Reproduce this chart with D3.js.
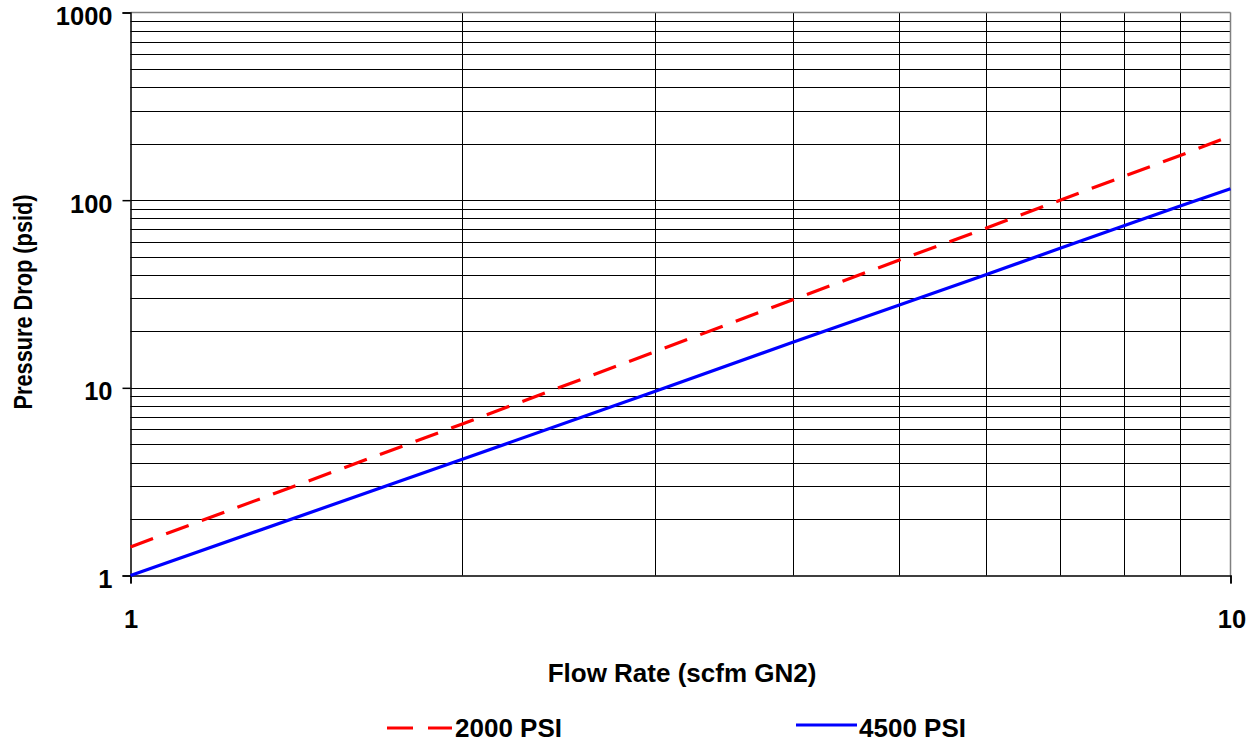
<!DOCTYPE html>
<html><head><meta charset="utf-8">
<script src="https://cdn.jsdelivr.net/npm/d3@7"></script>
<style>body{margin:0;background:#fff}svg{display:block;font-family:"Liberation Sans",Arial,sans-serif;font-weight:bold}</style>
</head><body><svg id="c" width="1258" height="744"></svg>
<script>
const flowRates = [1,2,3,4,5,6,7,8,9,10];
const psi2000 = [1.42,6.4,15.6,29.5,48,71,100,134,173,220];
const psi4500 = [1.0,4.15,9.6,17.5,27.6,40.2,55.4,73,93,115];
const xTicks = [1,10];
const yTicks = [1,10,100,1000];
const seriesNames = ["2000 PSI","4500 PSI"];

const svg = d3.select("#c");
const L=130.5, R=1230.5, T=12.5, B=575.5;
const x = d3.scaleLog().domain([1,10]).range([L,R]);
const y = d3.scaleLog().domain([1,1000]).range([B,T]);

// grid
const yGrid=[];for(let d=1;d<1000;d*=10){for(let k=2;k<=9;k++)yGrid.push(d*k);}
const xGrid=[2,3,4,5,6,7,8,9];
svg.append("g").selectAll("line").data(yGrid.concat([10,100])).join("line")
 .attr("x1",L).attr("x2",R).attr("y1",d=>Math.round(y(d))+0.5).attr("y2",d=>Math.round(y(d))+0.5)
 .attr("stroke","#000").attr("stroke-width",1);
svg.append("g").selectAll("line").data(xGrid).join("line")
 .attr("y1",T).attr("y2",B).attr("x1",d=>Math.round(x(d))+0.5).attr("x2",d=>Math.round(x(d))+0.5)
 .attr("stroke","#000").attr("stroke-width",1);
// frame
svg.append("line").attr("x1",L).attr("x2",R).attr("y1",T).attr("y2",T).attr("stroke","#808080").attr("stroke-width",1.5);
svg.append("line").attr("x1",R).attr("x2",R).attr("y1",T).attr("y2",B).attr("stroke","#808080").attr("stroke-width",1.5);

const FONT="'Liberation Sans',Arial,sans-serif";
// axes
const yAxis = d3.axisLeft(y).tickValues(yTicks).tickFormat(d3.format("d")).tickSize(8).tickPadding(10);
const gy = svg.append("g").attr("transform",`translate(${L},0)`).call(yAxis);
const xAxis = d3.axisBottom(x).tickValues(xTicks).tickFormat(d3.format("d")).tickSize(8).tickPadding(26);
const gx = svg.append("g").attr("transform",`translate(0,${B})`).call(xAxis);
[gy,gx].forEach(g=>{g.selectAll("path,line").attr("stroke","#000").attr("stroke-width",1.5);
 g.selectAll("text").attr("fill","#000").style("font-size","25.5px").style("font-weight","bold").style("font-family",FONT);});
gy.selectAll("text").attr("dy","12px");
gx.selectAll("text").attr("dx", d=> d===10? "1px":"0");

// lines
const line = (vals)=>d3.line().x((d,i)=>x(flowRates[i])).y(d=>y(d))(vals);
svg.append("path").attr("d",line(psi2000)).attr("fill","none").attr("stroke","#ff0000").attr("stroke-width",3.2).attr("stroke-dasharray","24,14");
svg.append("path").attr("d",line(psi4500)).attr("fill","none").attr("stroke","#0000ff").attr("stroke-width",3.2);

// labels
svg.append("text").attr("x",682).attr("y",682).attr("text-anchor","middle").style("font-size","26px").text("Flow Rate (scfm GN2)");
svg.append("text").attr("transform","translate(32,302) rotate(-90) scale(0.87,1)").attr("text-anchor","middle").style("font-size","25px").text("Pressure Drop (psid)");

// legend
const lg = svg.append("g");
lg.append("line").attr("x1",387).attr("x2",452).attr("y1",728).attr("y2",728).attr("stroke","#ff0000").attr("stroke-width",3.2).attr("stroke-dasharray","26,15");
lg.append("text").attr("x",455).attr("y",737).style("font-size","26px").text(seriesNames[0]);
lg.append("line").attr("x1",796).attr("x2",857).attr("y1",725).attr("y2",725).attr("stroke","#0000ff").attr("stroke-width",3.2);
lg.append("text").attr("x",859).attr("y",737).style("font-size","26px").text(seriesNames[1]);
</script></body></html>
